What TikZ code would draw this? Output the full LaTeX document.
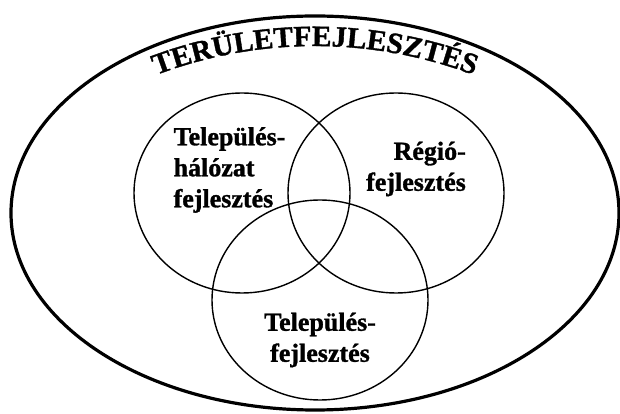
\documentclass[tikz,border=0pt]{standalone}
\usepackage{fontspec}
\setmainfont{Liberation Serif}[BoldFont={Liberation Serif Bold}, BoldFeatures={FakeBold=1.2}]
\usepackage{tikz}
\usetikzlibrary{shapes,decorations.text}

\begin{document}
\begin{tikzpicture}[
    x=1pt, y=1pt,
    area/.style={draw=black, line width=1.4pt, ellipse, minimum width=216pt, minimum height=200pt, inner sep=0pt},
    label/.style={font=\fontsize{26}{31}\selectfont\bfseries, inner sep=0pt}
]
    \useasboundingbox (0,0) rectangle (620,414);

    % outer region
    \node[draw=black, line width=3.2pt, ellipse, minimum width=608pt, minimum height=394pt, inner sep=0pt] (terulet) at (315,201) {};

    % title along the top arc
    \path[decorate, decoration={text along path, text align=center,
        text={|\fontsize{29.5}{30}\selectfont\bfseries|TERÜLETFEJLESZTÉS}}]
        (124.8,325.8) arc[start angle=115, end angle=65, radius=450];

    % the three circles
    \node[area] (halozat) at (242,221) {};
    \node[area] (regio) at (396,221) {};
    \node[area] (telepules) at (320,114) {};

    % texts
    \node[label, align=left] (halozattxt) at (229.5,244) {Település-\\hálózat\\fejlesztés};
    \node[label, align=right] (regiotxt) at (416,245) {Régió-\\fejlesztés};
    \node[label, align=center] (telepulestxt) at (320,74) {Település-\\fejlesztés};

\end{tikzpicture}
\end{document}
